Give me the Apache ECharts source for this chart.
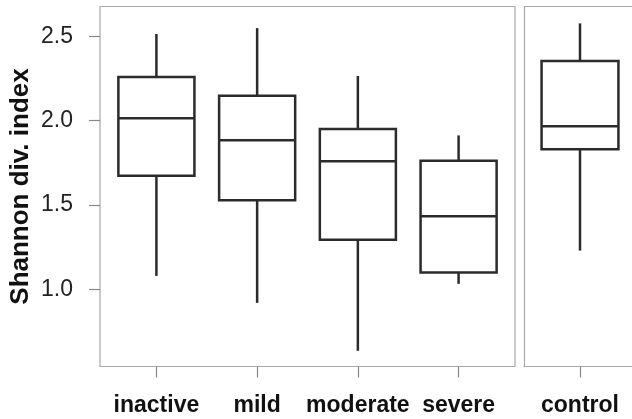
<!DOCTYPE html>
<html>
<head>
<meta charset="utf-8">
<script src="https://cdn.jsdelivr.net/npm/echarts@6/dist/echarts.min.js"></script>
<style>
  html, body { margin: 0; padding: 0; background: #fff; }
  #chart { width: 632px; height: 419px; }
</style>
</head>
<body>
<div id="chart"></div>
<script>
// disease groups (left panel) and control (right panel)
const groups = ['inactive', 'mild', 'moderate', 'severe'];
const lowWhisker = [1.08, 0.92, 0.636, 1.033];
const q1 = [1.674, 1.528, 1.295, 1.10];
const median = [2.014, 1.884, 1.759, 1.434];
const q3 = [2.259, 2.148, 1.951, 1.763];
const highWhisker = [2.514, 2.549, 2.265, 1.913];

const controlGroup = ['control'];
const controlLow = [1.23];
const controlQ1 = [1.831];
const controlMedian = [1.967];
const controlQ3 = [2.354];
const controlHigh = [2.577];

const yTicks = [1.0, 1.5, 2.0, 2.5];

const lineColor = '#2b2b2b';
const frameColor = '#a9a9a9';
const boxWidth = 0.755; // in category units

function rows(lo, a, m, b, hi) {
  return lo.map((v, i) => [i, v, a[i], m[i], b[i], hi[i]]);
}

function renderBox(params, api) {
  const x = api.value(0);
  const lo = api.coord([x, api.value(1)]);
  const b1 = api.coord([x, api.value(2)]);
  const md = api.coord([x, api.value(3)]);
  const b3 = api.coord([x, api.value(4)]);
  const hi = api.coord([x, api.value(5)]);
  const half = api.size([boxWidth, 0])[0] / 2;
  const style = { stroke: lineColor, lineWidth: 2.5, fill: null };
  return {
    type: 'group',
    children: [
      { type: 'line', shape: { x1: lo[0], y1: lo[1], x2: lo[0], y2: b1[1] }, style: style },
      { type: 'line', shape: { x1: hi[0], y1: hi[1], x2: hi[0], y2: b3[1] }, style: style },
      { type: 'rect', shape: { x: lo[0] - half, y: b3[1], width: half * 2, height: b1[1] - b3[1] },
        style: { stroke: lineColor, lineWidth: 2.5, fill: '#fff' } },
      { type: 'line', shape: { x1: md[0] - half, y1: md[1], x2: md[0] + half, y2: md[1] }, style: style }
    ]
  };
}

const frameLine = { show: true, onZero: false, lineStyle: { color: frameColor, width: 1.2 } };

function xAxisFor(idx, names, min, max, line) {
  const vals = names.map((n, i) => i);
  return {
    type: 'value',
    gridIndex: idx,
    min: min,
    max: max,
    axisLine: line ? frameLine : { show: false, onZero: false },
    splitLine: { show: false },
    axisTick: { customValues: vals, length: 11, lineStyle: { color: '#888', width: 1.2 } },
    axisLabel: {
      customValues: vals,
      formatter: v => names[Math.round(v)],
      fontFamily: 'Liberation Sans',
      fontWeight: 'bold',
      fontSize: 23,
      color: '#111',
      margin: 28
    }
  };
}

const chart = echarts.init(document.getElementById('chart'), null, { renderer: 'canvas' });
chart.setOption({
  animation: false,
  backgroundColor: '#fff',
  grid: [
    { left: 100, top: 6.5, width: 415, height: 360, show: true, borderColor: frameColor, borderWidth: 1.2,
      outerBoundsMode: 'none', containLabel: false },
    { left: 524, top: 6.5, width: 112, height: 360, show: false,
      outerBoundsMode: 'none', containLabel: false }
  ],
  xAxis: [
    xAxisFor(0, groups, -0.56, 3.56, false),
    xAxisFor(1, controlGroup, -0.55, 0.55, true),
    // top edge of the control panel
    {
      type: 'value', gridIndex: 1, position: 'top', min: -0.55, max: 0.55,
      axisLine: frameLine, axisTick: { show: false }, axisLabel: { show: false }, splitLine: { show: false }
    }
  ],
  yAxis: [
    {
      type: 'value',
      gridIndex: 0,
      min: 0.543,
      max: 2.677,
      axisLine: { show: false, onZero: false },
      splitLine: { show: false },
      axisTick: { customValues: yTicks, length: 11, lineStyle: { color: '#888', width: 1.2 } },
      axisLabel: {
        customValues: yTicks,
        formatter: v => v.toFixed(1),
        fontFamily: 'Liberation Sans',
        fontSize: 23,
        color: '#222',
        margin: 27
      },
      name: 'Shannon div. index',
      nameLocation: 'middle',
      nameGap: 66,
      nameMoveOverlap: false,
      nameTextStyle: {
        fontFamily: 'Liberation Sans',
        fontWeight: 'bold',
        fontSize: 26,
        color: '#111'
      }
    },
    {
      type: 'value',
      gridIndex: 1,
      min: 0.543,
      max: 2.677,
      axisLine: frameLine,
      axisTick: { show: false },
      axisLabel: { show: false },
      splitLine: { show: false }
    }
  ],
  series: [
    {
      type: 'custom',
      xAxisIndex: 0,
      yAxisIndex: 0,
      renderItem: renderBox,
      encode: { x: 0, y: [1, 2, 3, 4, 5] },
      data: rows(lowWhisker, q1, median, q3, highWhisker)
    },
    {
      type: 'custom',
      xAxisIndex: 1,
      yAxisIndex: 1,
      renderItem: renderBox,
      encode: { x: 0, y: [1, 2, 3, 4, 5] },
      data: rows(controlLow, controlQ1, controlMedian, controlQ3, controlHigh)
    }
  ]
});
</script>
</body>
</html>
